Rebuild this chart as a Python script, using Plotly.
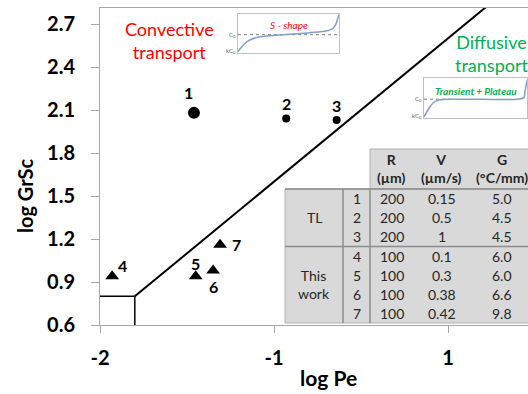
import plotly.graph_objects as go

# ---------------- main data ----------------
pe_tl = [-1.46, -0.93, -0.64]
grsc_tl = [2.08, 2.04, 2.03]
labels_tl = ["1", "2", "3"]

pe_this = [-1.93, -1.45, -1.35, -1.31]
grsc_this = [0.94, 0.94, 0.98, 1.16]
labels_this = ["4", "5", "6", "7"]

boundary_x = [-1.8, 0.3]
boundary_y = [0.8, 2.9]
box_x = [-2.0, -1.8, -1.8]
box_y = [0.8, 0.8, 0.6]

y_ticks = [0.6, 0.9, 1.2, 1.5, 1.8, 2.1, 2.4, 2.7]
x_tick_vals = [-2, -1, 0]
x_tick_text = ["-2", "-1", "1"]

# ---------------- inset curves ----------------
s_shape_x = [0.0, 0.09, 0.19, 0.45, 0.71, 0.88, 0.94, 0.97, 0.99, 1.0]
s_shape_y = [0.04, 0.30, 0.41, 0.48, 0.53, 0.58, 0.64, 0.76, 0.93, 1.0]
s_c0 = 0.48
s_kc0 = 0.06

plateau_x = [0.0, 0.04, 0.09, 0.15, 0.32, 0.9, 0.97, 0.98, 1.0]
plateau_y = [0.03, 0.21, 0.39, 0.46, 0.48, 0.48, 0.52, 0.67, 0.96]
p_c0 = 0.48
p_kc0 = 0.06

# ---------------- table data ----------------
table_headers = ["R<br>(µm)", "V<br>(µm/s)", "G<br>(°C/mm)"]
table_groups = ["TL", "This<br>work"]
group_sizes = [3, 4]
row_ids = ["1", "2", "3", "4", "5", "6", "7"]
r_um = ["200", "200", "200", "100", "100", "100", "100"]
v_ums = ["0.15", "0.5", "1", "0.1", "0.3", "0.38", "0.42"]
g_cmm = ["5.0", "4.5", "4.5", "6.0", "6.0", "6.6", "9.8"]

FONT = "Lato"
W, H = 528, 394
ML, MR, MT, MB = 100, 0, 8, 69
PW, PH = W - ML - MR, H - MT - MB


def px(x):
    return (x - ML) / PW


def py(y):
    return (H - MB - y) / PH


def ann(**kw):
    kw.setdefault("showarrow", False)
    kw.setdefault("xanchor", "center")
    kw.setdefault("yanchor", "middle")
    return kw


fig = go.Figure()

# boundary lines
fig.add_trace(go.Scatter(x=boundary_x, y=boundary_y, mode="lines",
                         line=dict(color="black", width=2), hoverinfo="skip", showlegend=False))
fig.add_trace(go.Scatter(x=box_x, y=box_y, mode="lines",
                         line=dict(color="black", width=1.5), hoverinfo="skip", showlegend=False))

# points
fig.add_trace(go.Scatter(x=pe_tl, y=grsc_tl, mode="markers",
                         marker=dict(color="black", size=[12, 8, 8], symbol="circle", opacity=1,
                                     line=dict(width=0)),
                         showlegend=False))
fig.add_trace(go.Scatter(x=pe_this, y=grsc_this, mode="markers",
                         marker=dict(color="black", size=12, symbol="triangle-up", opacity=1,
                                     line=dict(width=0)),
                         showlegend=False))

annotations = []
lab_font = dict(family=FONT, size=16, color="black", weight="bold")
offs_tl = [(-5, 20), (0, 15), (0, 15)]
for x, y, t, (dx, dy) in zip(pe_tl, grsc_tl, labels_tl, offs_tl):
    annotations.append(ann(x=x, y=y, text=t, xshift=dx, yshift=dy, font=lab_font))
offs_this = [(10, 11), (0, 13), (0, -16), (16, 0)]
for x, y, t, (dx, dy) in zip(pe_this, grsc_this, labels_this, offs_this):
    annotations.append(ann(x=x, y=y, text=t, xshift=dx, yshift=dy, font=lab_font))

# region labels
red = "#ff0000"
green = "#00b050"
for txt, cx, cy, col in [("Convective<br>transport", 169, 40, red),
                         ("Diffusive<br>transport", 491, 53, green)]:
    annotations.append(ann(xref="paper", yref="paper", x=px(cx), y=py(cy), text=txt,
                           font=dict(family=FONT, size=18, color=col)))

# axis titles
annotations.append(ann(xref="paper", yref="paper", x=px(328), y=py(377), text="log Pe",
                       font=dict(family=FONT, size=21, color="black", weight="bold")))
annotations.append(ann(xref="paper", yref="paper", x=px(25), y=py(196), text="log GrSc",
                       textangle=-90,
                       font=dict(family=FONT, size=20, color="black", weight="bold")))

# ---------------- insets ----------------
inset_color = "#7f9fcf"
fig.add_trace(go.Scatter(x=[0, 1], y=[s_c0, s_c0], xaxis="x2", yaxis="y2", mode="lines",
                         line=dict(color="#7f7f7f", width=1, dash="dot"), showlegend=False))
fig.add_trace(go.Scatter(x=s_shape_x, y=s_shape_y, xaxis="x2", yaxis="y2", mode="lines",
                         line=dict(color=inset_color, width=1.5, shape="spline"), showlegend=False))
fig.add_trace(go.Scatter(x=[0, 0.25], y=[p_c0, p_c0], xaxis="x3", yaxis="y3", mode="lines",
                         line=dict(color="#7f7f7f", width=1, dash="dot"), showlegend=False))
fig.add_trace(go.Scatter(x=plateau_x, y=plateau_y, xaxis="x3", yaxis="y3", mode="lines",
                         line=dict(color=inset_color, width=1.5, shape="spline"), showlegend=False))

inset_axis = dict(showgrid=False, zeroline=False, showticklabels=False, ticks="",
                  showline=True, mirror=True, linecolor="#c0c0c0", linewidth=1, fixedrange=True)

small = dict(family=FONT, size=6, color="#595959")
for xr, yr, c0, kc0 in [("x2", "y2", s_c0, s_kc0), ("x3", "y3", p_c0, p_kc0)]:
    annotations += [
        ann(xref=xr, yref=yr, x=0, y=c0, text="C<sub>0</sub>", xanchor="right", font=small),
        ann(xref=xr, yref=yr, x=0, y=kc0, text="kC<sub>0</sub>", xanchor="right", font=small),
        ann(xref=xr, yref=yr, x=0, y=-0.08, text="0", yanchor="top", font=small),
        ann(xref=xr, yref=yr, x=0.5, y=-0.08, text="L/L<sub>0</sub>", yanchor="top", font=small),
        ann(xref=xr, yref=yr, x=1, y=-0.08, text="1", yanchor="top", font=small),
    ]
annotations.append(ann(xref="x2", yref="y2", x=0.5, y=0.72, text="<i>S - shape</i>",
                       font=dict(family=FONT, size=10, color=red)))
annotations.append(ann(xref="x3", yref="y3", x=0.5, y=0.7, text="<i>Transient + Plateau</i>",
                       font=dict(family=FONT, size=10, color=green, weight="bold")))

# ---------------- table ----------------
shapes = []
fill = "#d9d9d9"
edge = "#8c8c8c"
col_x = [285, 343, 370, 413, 470, 540]
head_top, head_bot, body_bot = 149, 189, 323
n_rows = len(row_ids)
row_h = (body_bot - head_bot) / n_rows

shapes.append(dict(type="rect", xref="paper", yref="paper", x0=px(col_x[2]), x1=px(col_x[5]),
                   y0=py(head_bot), y1=py(head_top), fillcolor=fill,
                   line=dict(color="#b0b0b0", width=1), layer="above"))
shapes.append(dict(type="rect", xref="paper", yref="paper", x0=px(col_x[0]), x1=px(col_x[5]),
                   y0=py(body_bot), y1=py(head_bot), fillcolor=fill,
                   line=dict(color="#b0b0b0", width=1), layer="above"))
for cx in (col_x[1], col_x[2]):
    shapes.append(dict(type="line", xref="paper", yref="paper", x0=px(cx), x1=px(cx),
                       y0=py(body_bot), y1=py(head_bot), line=dict(color=edge, width=1.5)))
shapes.append(dict(type="line", xref="paper", yref="paper", x0=px(col_x[0]), x1=px(col_x[5]),
                   y0=py(head_bot), y1=py(head_bot), line=dict(color=edge, width=1.5)))
div_y = head_bot + group_sizes[0] * row_h
shapes.append(dict(type="line", xref="paper", yref="paper", x0=px(col_x[0]), x1=px(col_x[5]),
                   y0=py(div_y), y1=py(div_y), line=dict(color=edge, width=1.5)))

tfont = dict(family=FONT, size=14, color="#262626")
hfont = dict(family=FONT, size=14, color="#262626", weight="bold")
col_centers = [(col_x[i] + col_x[i + 1]) / 2 for i in range(5)]
col_centers[4] = 502
for i, h in enumerate(table_headers):
    annotations.append(ann(xref="paper", yref="paper", x=px(col_centers[2 + i]),
                           y=py((head_top + head_bot) / 2), text=h, font=hfont))
start = 0
for g, n in zip(table_groups, group_sizes):
    cy = head_bot + (start + n / 2) * row_h
    annotations.append(ann(xref="paper", yref="paper", x=px(col_centers[0]), y=py(cy),
                           text=g, font=tfont))
    start += n
for i in range(n_rows):
    cy = head_bot + (i + 0.5) * row_h
    for j, vals in enumerate([row_ids, r_um, v_ums, g_cmm]):
        annotations.append(ann(xref="paper", yref="paper", x=px(col_centers[1 + j]), y=py(cy),
                               text=vals[i], font=tfont))

fig.update_layout(
    width=W, height=H,
    margin=dict(l=ML, r=MR, t=MT, b=MB, pad=0),
    paper_bgcolor="white", plot_bgcolor="white",
    showlegend=False,
    xaxis=dict(range=[-2, -2 + PW / 174], tickvals=x_tick_vals, ticktext=x_tick_text,
               showgrid=False, zeroline=False, showline=True, mirror=True,
               linecolor="#a6a6a6", linewidth=1, ticks="outside", ticklen=7, tickcolor="#a6a6a6",
               ticklabelstandoff=8,
               tickfont=dict(family=FONT, size=20, color="black", weight="bold")),
    yaxis=dict(range=[0.6, 0.6 + PH * 0.3 / 43], tickvals=y_ticks, tickformat=".1f",
               showgrid=False, zeroline=False, showline=True, mirror=False,
               linecolor="#a6a6a6", linewidth=1, ticks="outside", ticklen=8, tickcolor="#a6a6a6",
               ticklabelstandoff=12,
               tickfont=dict(family=FONT, size=20, color="black", weight="bold")),
    xaxis2=dict(domain=[px(238), px(339)], anchor="y2", range=[0, 1], **inset_axis),
    yaxis2=dict(domain=[py(53), py(14)], anchor="x2", range=[0, 1.02], **inset_axis),
    xaxis3=dict(domain=[px(424), px(527)], anchor="y3", range=[0, 1], **inset_axis),
    yaxis3=dict(domain=[py(118), py(78)], anchor="x3", range=[0, 1.02], **inset_axis),
    annotations=annotations,
    shapes=shapes,
)

fig.write_html("out.html")
